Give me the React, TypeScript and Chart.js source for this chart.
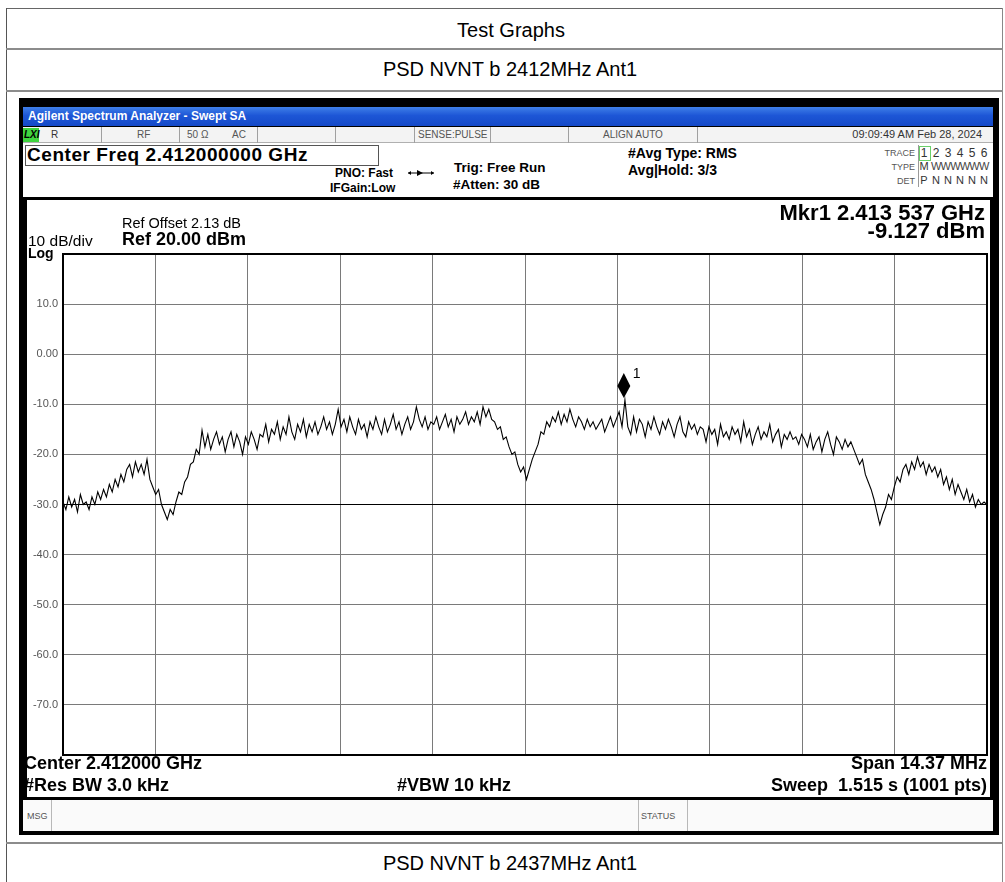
import React, { useEffect, useRef } from 'react';
import { Chart, registerables } from 'chart.js';

Chart.register(...registerables);

// ---------------- data ----------------
const CENTER_MHZ = 2412;
const SPAN_MHZ = 14.37;
const X_DIVISIONS = 10;
const Y_MAX = 20;
const Y_MIN = -80;
const Y_TICKS = [20, 10, 0, -10, -20, -30, -40, -50, -60, -70, -80];
const Y_TICK_LABELS = ['', '10.0', '0.00', '-10.0', '-20.0', '-30.0', '-40.0', '-50.0', '-60.0', '-70.0', ''];
const DISPLAY_LINE_DBM = -30;
const MARKER_MHZ = 2413.537;
const MARKER_DBM = -9.127;
const MARKER_LABEL = '1';

const TRACE_DBM = [
  -29.5, -31, -28.5, -30.5, -29, -31.5, -28, -30, -29.5, -31, -28.5, -30, -27.5,
  -29, -27, -28.5, -26, -27.5, -25, -26.5, -24, -25.5, -23,
  -22, -24.5, -21.5, -23.5, -22, -24, -21,
  -25, -26.5, -28, -27, -30, -31.5, -33, -31, -32,
  -29.5, -27.5, -28, -25.5, -24.5, -22, -21.5, -19, -20,
  -15.2,
  -18.5, -16, -19, -17, -15.5, -18, -16.5, -19.5, -17, -15.5, -18.5, -16, -17.5, -20, -16.5, -18, -15.5, -17, -19, -16,
  -16.5, -14, -17.5, -15, -16, -13.5, -17, -14.5, -16, -12.5, -15.5, -17, -14, -15.5, -13, -16.5, -14, -15.5, -13.5, -16,
  -14.5, -12.5, -15, -13.5, -16, -14, -11, -14.5,
  -13, -15.5, -12.5, -14.5, -16, -13, -15, -14, -16.5, -13.5, -15, -12.5, -14.5, -16, -13, -15.5, -14, -12, -15, -13.5,
  -16, -14, -12.5, -15, -13.5, -10.5, -13, -14.5, -12.5, -15, -13.5,
  -14, -12.5, -15, -13.5, -12, -14.5, -13, -15.5, -12.5, -14, -13, -11.5, -14, -12.5, -13.5, -11.5, -14, -10.5, -12.5, -11,
  -13,
  -13.5, -15, -14.5, -17, -16.5, -18.5, -20, -19.5, -22, -23.5, -22.5, -25,
  -23, -21, -19.5, -18, -15.5, -16, -13.5, -14.5, -12.5,
  -13.5, -11.5, -14, -12, -13.5, -11, -13, -14.5, -12.5, -13.5, -15, -13, -14.5, -13.5, -15, -14, -13, -15.5, -14, -12.5,
  -14.5, -13, -11.5, -14.5, -9.127,
  -14.5, -16, -12.5, -15.5, -13, -14, -16.5, -13.5, -15, -12.5, -14.5, -16, -13.5, -15, -13, -14.5, -16.5, -14, -12.5, -15.5,
  -16.5, -13.5, -15, -14, -16, -14.5,
  -15, -17.5, -14.5, -16, -15, -18, -14, -16.5, -15.5, -17, -14.5, -16, -15, -17.5, -13.5, -16.5, -15, -18, -16, -14.5,
  -17, -15.5, -16.5, -14, -17.5, -16, -15, -18.5, -16, -17, -15.5, -17, -16.5, -18, -16,
  -17, -18.5, -16, -19, -17.5, -16.5, -19.5, -17, -15.5, -18, -20, -16.5, -17.5, -19, -17, -18.5, -17.5,
  -19, -20.5, -22, -21, -24, -25.5, -27, -29, -31.5, -34,
  -32, -30.5, -28, -29, -26.5, -24.5, -25.5, -23,
  -22, -24, -21.5, -23, -20.5, -22.5, -21.5, -24, -22, -23.5, -22.5,
  -24.5, -23, -26, -24.5, -27, -25, -28, -26, -27.5, -29, -27, -29.5, -28, -30.5, -29, -30, -29.5, -30,
];

const PAGE_TITLE = 'Test Graphs';
const CHART_TITLE = 'PSD NVNT b 2412MHz Ant1';
const NEXT_TITLE = 'PSD NVNT b 2437MHz Ant1';

// ---------------- helpers ----------------
const FONT = '"Liberation Sans", Arial, Helvetica, sans-serif';
const PAGE_W = 1005;

type TProps = {
  x: number; y: number; size: number; bold?: boolean; align?: 'left' | 'right' | 'center';
  color?: string; italic?: boolean; ls?: number; children: React.ReactNode;
};
function T({ x, y, size, bold, align = 'left', color = '#000', italic, ls, children }: TProps) {
  const s: React.CSSProperties = {
    position: 'absolute', top: y - size * 0.6, fontSize: size, lineHeight: `${size * 1.2}px`,
    fontFamily: FONT, fontWeight: bold ? 700 : 400, color, whiteSpace: 'pre',
    fontStyle: italic ? 'italic' : 'normal', letterSpacing: ls ? `${ls}px` : undefined,
  };
  if (align === 'left') s.left = x;
  else if (align === 'right') s.right = PAGE_W - x;
  else { s.left = x; s.transform = 'translateX(-50%)'; }
  return <div style={s}>{children}</div>;
}
function R({ l, t, w, h, bg, border, style }: { l: number; t: number; w: number; h: number; bg?: string; border?: string; style?: React.CSSProperties }) {
  return <div style={{ position: 'absolute', left: l, top: t, width: w, height: h, background: bg, border, boxSizing: 'border-box', ...style }} />;
}

// ---------------- chart ----------------
function SpectrumChart() {
  const ref = useRef<HTMLCanvasElement | null>(null);
  useEffect(() => {
    if (!ref.current) return;
    const start = CENTER_MHZ - SPAN_MHZ / 2;
    const stop = CENTER_MHZ + SPAN_MHZ / 2;
    const n = TRACE_DBM.length;
    const pts = TRACE_DBM.map((v, i) => ({ x: start + (i * SPAN_MHZ) / (n - 1), y: v }));
    const xTicks = Array.from({ length: X_DIVISIONS + 1 }, (_, k) => start + (k * SPAN_MHZ) / X_DIVISIONS);

    const framePlugin = {
      id: 'saFrame',
      afterDatasetsDraw(chart: any) {
        const { ctx, chartArea: a, scales } = chart;
        ctx.save();
        ctx.strokeStyle = '#000';
        ctx.lineWidth = 2;
        ctx.strokeRect(a.left, a.top, a.right - a.left, a.bottom - a.top);
        const px = scales.x.getPixelForValue(MARKER_MHZ);
        const py = scales.y.getPixelForValue(MARKER_DBM);
        ctx.fillStyle = '#000';
        ctx.beginPath();
        ctx.moveTo(px, py - 2);
        ctx.lineTo(px + 6.5, py - 14);
        ctx.lineTo(px, py - 27);
        ctx.lineTo(px - 6.5, py - 14);
        ctx.closePath();
        ctx.fill();
        ctx.font = `14px ${FONT}`;
        ctx.textBaseline = 'middle';
        ctx.fillText(MARKER_LABEL, px + 9, py - 26);
        ctx.restore();
      },
    };

    const chart = new Chart(ref.current, {
      type: 'line',
      data: {
        datasets: [{
          data: pts,
          borderColor: '#000',
          borderWidth: 1.1,
          pointRadius: 0,
          tension: 0,
          fill: false,
        }],
      },
      options: {
        animation: false,
        responsive: false,
        maintainAspectRatio: false,
        events: [],
        layout: { padding: { top: 54, right: 3, bottom: 42, left: 0 } },
        plugins: { legend: { display: false }, tooltip: { enabled: false }, title: { display: false } },
        scales: {
          x: {
            type: 'linear', min: start, max: stop,
            afterBuildTicks: (s: any) => { s.ticks = xTicks.map((v) => ({ value: v })); },
            afterFit: (s: any) => { s.height = 0; },
            ticks: { display: false },
            grid: { color: '#7a7a7a', lineWidth: 1, drawTicks: false },
            border: { display: false },
          },
          y: {
            type: 'linear', min: Y_MIN, max: Y_MAX,
            afterBuildTicks: (s: any) => { s.ticks = Y_TICKS.map((v) => ({ value: v })); },
            afterFit: (s: any) => { s.width = 36; },
            ticks: {
              callback: (v: any) => { const i = Y_TICKS.indexOf(Number(v)); return i >= 0 ? Y_TICK_LABELS[i] : ''; },
              color: '#555', font: { family: FONT, size: 11 }, padding: 5,
            },
            grid: {
              color: (c: any) => (c.tick && c.tick.value === DISPLAY_LINE_DBM ? '#000' : '#7a7a7a'),
              lineWidth: 1, drawTicks: false,
            },
            border: { display: false },
          },
        },
      },
      plugins: [framePlugin],
    } as any);
    return () => chart.destroy();
  }, []);
  return <canvas ref={ref} width={963} height={597} style={{ position: 'absolute', left: 27, top: 200, width: 963, height: 597 }} />;
}

// ---------------- app ----------------
export default function App() {
  const infoSeps = [101, 179, 257, 335, 414, 490, 568, 697];
  const traceCols = [924, 936, 948, 960, 972, 984];
  return (
    <div style={{ position: 'absolute', left: 0, top: 0, width: PAGE_W, height: 882, background: '#fff', overflow: 'hidden', fontFamily: FONT }}>
      {/* outer table */}
      <R l={6} t={8} w={997} h={1} bg="#666" />
      <R l={6} t={8} w={1} h={874} bg="#555" />
      <R l={1002} t={8} w={1} h={874} bg="#888" />
      <R l={6} t={48} w={997} h={2} bg="#8c8c8c" />
      <R l={6} t={90} w={997} h={2} bg="#8c8c8c" />
      <R l={6} t={842} w={997} h={2} bg="#8c8c8c" />
      <T x={511} y={30} size={20} align="center">{PAGE_TITLE}</T>
      <T x={510} y={69} size={20} align="center">{CHART_TITLE}</T>
      <T x={510} y={863} size={20} align="center">{NEXT_TITLE}</T>

      {/* analyzer frame */}
      <R l={19} t={98} w={980} h={737} bg="#000" />
      <R l={23} t={107} w={970} h={19} style={{ background: 'linear-gradient(180deg,#3f7fe8 0%,#1d56d6 45%,#1449c8 100%)' }} />
      <T x={28} y={116} size={12} bold color="#fff">Agilent Spectrum Analyzer - Swept SA</T>

      {/* info row */}
      <R l={23} t={127} w={970} h={16} bg="#f3f3f3" style={{ borderBottom: '1px solid #b0b0b0' }} />
      <R l={23} t={128} w={16} h={14} bg="#3fd43f" />
      <T x={24} y={135} size={10} bold italic>LXI</T>
      {infoSeps.map((x) => <R key={x} l={x} t={127} w={1} h={16} bg="#a0a0a0" />)}
      <T x={51} y={135} size={10} color="#333">R</T>
      <T x={137} y={135} size={10} color="#555">RF</T>
      <T x={187} y={135} size={10} color="#555">50 Ω</T>
      <T x={232} y={135} size={10} color="#555">AC</T>
      <T x={418} y={135} size={10} color="#555">SENSE:PULSE</T>
      <T x={603} y={135} size={10} color="#555">ALIGN AUTO</T>
      <T x={982} y={135} size={11} align="right" color="#333">09:09:49 AM Feb 28, 2024</T>

      {/* header */}
      <R l={23} t={143} w={970} h={54} bg="#fff" />
      <R l={25} t={145} w={354} h={21} bg="#fff" border="1px solid #555" />
      <T x={27} y={155} size={19} bold ls={0.55}>Center Freq 2.412000000 GHz</T>
      <T x={335} y={173} size={12} bold>PNO: Fast</T>
      <T x={330} y={188} size={12} bold>IFGain:Low</T>
      <svg style={{ position: 'absolute', left: 406, top: 168 }} width={30} height={10}>
        <line x1={2} y1={5} x2={28} y2={5} stroke="#000" strokeWidth={1} />
        <polygon points="11,2 17,5 11,8" fill="#000" />
        <polygon points="2,5 5,3 5,7" fill="#000" />
        <polygon points="28,5 25,3 25,7" fill="#000" />
      </svg>
      <T x={454} y={168} size={13.5} bold>Trig: Free Run</T>
      <T x={453} y={185} size={13.5} bold>#Atten: 30 dB</T>
      <T x={628} y={153} size={14} bold>#Avg Type: RMS</T>
      <T x={628} y={170} size={14} bold>Avg|Hold: 3/3</T>

      <T x={915} y={153} size={9} align="right" color="#555">TRACE</T>
      <T x={915} y={167} size={9} align="right" color="#555">TYPE</T>
      <T x={915} y={181} size={9} align="right" color="#555">DET</T>
      <R l={918} t={145} w={1} h={42} bg="#9a9a9a" />
      <R l={919} t={146} w={12} h={15} border="1px solid #6ad06a" />
      {traceCols.map((x, i) => <T key={'t' + i} x={x} y={153} size={12} align="center" color="#333">{String(i + 1)}</T>)}
      <T x={924} y={167} size={11} align="center" color="#333">M</T>
      <T x={931} y={167} size={11} color="#444" ls={-0.8}>WWWWWW</T>
      {traceCols.map((x, i) => <T key={'d' + i} x={x} y={181} size={11} align="center" color="#333">{i === 0 ? 'P' : 'N'}</T>)}

      {/* plot panel */}
      <R l={27} t={200} w={963} h={597} bg="#fff" />
      <SpectrumChart />
      <T x={985} y={213} size={22} bold align="right">Mkr1 2.413 537 GHz</T>
      <T x={985} y={231} size={22} bold align="right">-9.127 dBm</T>
      <T x={122} y={224} size={14.5}>Ref Offset 2.13 dB</T>
      <T x={122} y={240} size={18} bold>Ref 20.00 dBm</T>
      <T x={28} y={241} size={15.5}>10 dB/div</T>
      <T x={28} y={253} size={14} bold>Log</T>
      <T x={24} y={764} size={18} bold>Center 2.412000 GHz</T>
      <T x={24} y={786} size={18} bold>#Res BW 3.0 kHz</T>
      <T x={397} y={786} size={18} bold>#VBW 10 kHz</T>
      <T x={987} y={764} size={18} bold align="right">Span 14.37 MHz</T>
      <T x={987} y={786} size={18} bold align="right">Sweep  1.515 s (1001 pts)</T>

      {/* message bar */}
      <R l={23} t={800} w={970} h={31} bg="#fafafa" />
      <R l={51} t={800} w={1} h={31} bg="#b8b8b8" />
      <R l={638} t={800} w={1} h={31} bg="#b8b8b8" />
      <R l={687} t={800} w={1} h={31} bg="#b8b8b8" />
      <T x={27} y={816} size={9} color="#555">MSG</T>
      <T x={641} y={816} size={9} color="#555">STATUS</T>
    </div>
  );
}
